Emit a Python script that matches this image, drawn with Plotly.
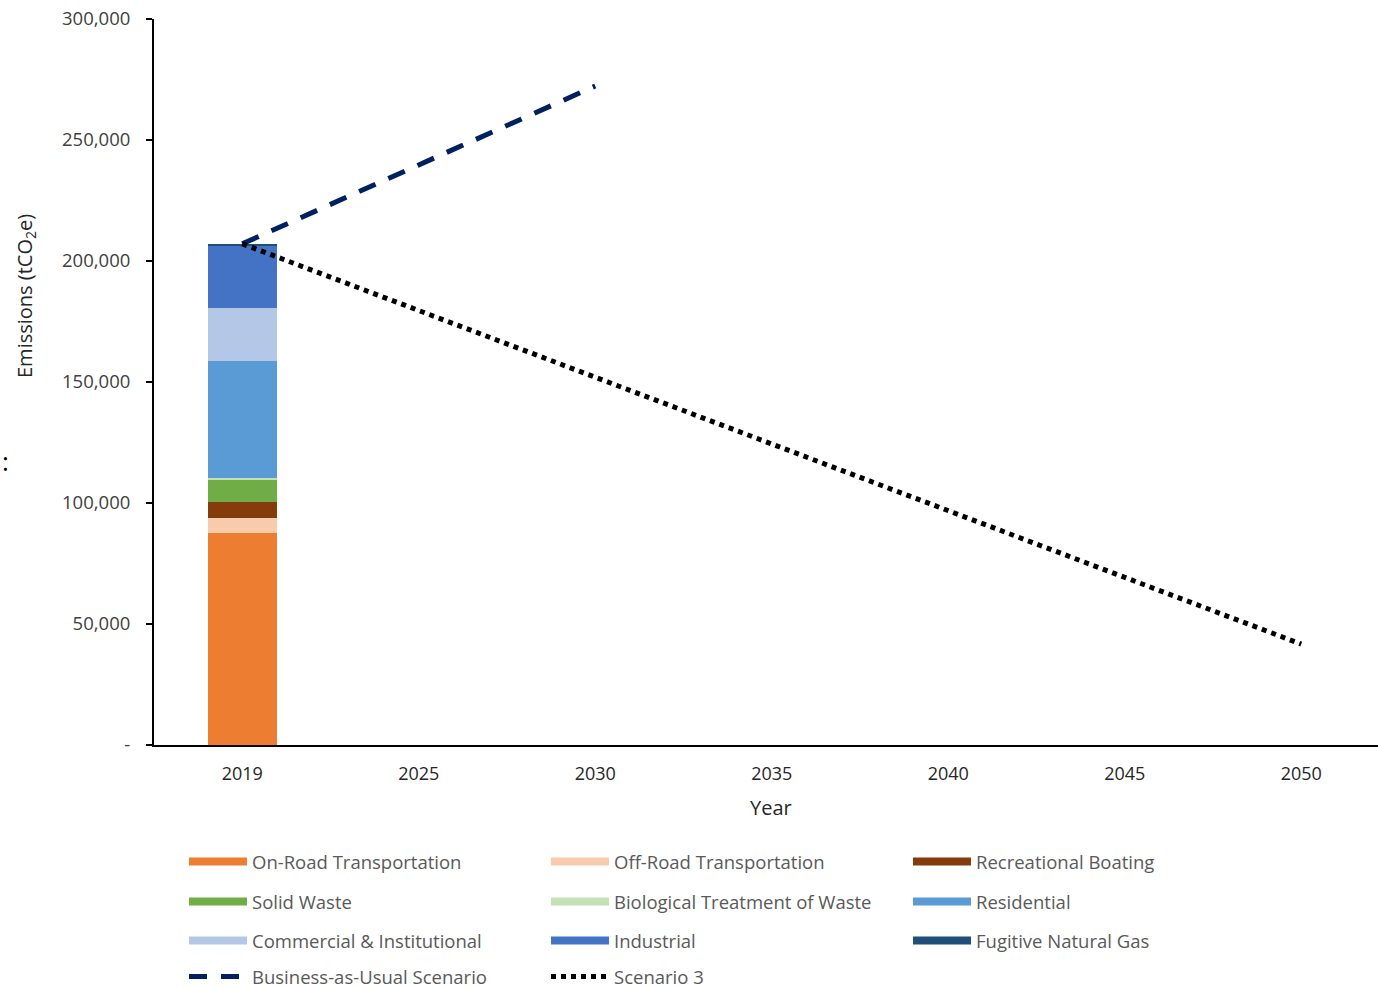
import plotly.graph_objects as go

years = ["2019", "2025", "2030", "2035", "2040", "2045", "2050"]

sectors = ["On-Road Transportation", "Off-Road Transportation", "Recreational Boating",
           "Solid Waste", "Biological Treatment of Waste", "Residential",
           "Commercial & Institutional", "Industrial", "Fugitive Natural Gas"]
values_2019 = [87500, 6100, 6700, 9600, 600, 48200, 22000, 25600, 800]
colors = ["#ED7D31", "#F8CBAD", "#843C0C", "#70AD47", "#C5E0B4", "#5B9BD5",
          "#B4C7E7", "#4472C4", "#1F4E79"]

bau_years = ["2019", "2030"]
bau_values = [207100, 272300]
s3_years = ["2019", "2050"]
s3_values = [207100, 41700]

FONT = "Open Sans"
L, T, R_EDGE, B_EDGE = 154, 19, 1378, 745
W = float(R_EDGE - L)
H = float(B_EDGE - T)

fig = go.Figure()

for name, v, c in zip(sectors, values_2019, colors):
    fig.add_trace(go.Bar(x=["2019"], y=[v], name=name, marker=dict(color=c, line=dict(width=0)),
                         showlegend=False, legendgroup=name))

fig.add_trace(go.Scatter(x=bau_years, y=bau_values, mode="lines", name="Business-as-Usual Scenario",
                         line=dict(color="#002060", width=5, dash="18px,14px"), showlegend=False))
fig.add_trace(go.Scatter(x=s3_years, y=s3_values, mode="lines", name="Scenario 3",
                         line=dict(color="black", width=5, dash="5px,5px"), showlegend=False))

# legend entries (rows of three)
legend_ids = ["legend", "legend2", "legend3", "legend4"]
for i, (name, c) in enumerate(zip(sectors, colors)):
    fig.add_trace(go.Scatter(x=[None], y=[None], mode="lines", name=name, legendgroup=name,
                             line=dict(color=c, width=8), legend=legend_ids[i // 3]))
fig.add_trace(go.Scatter(x=[None], y=[None], mode="lines", name="Business-as-Usual Scenario",
                         line=dict(color="#002060", width=5, dash="18px,14px"), legend="legend4"))
fig.add_trace(go.Scatter(x=[None], y=[None], mode="lines", name="Scenario 3",
                         line=dict(color="black", width=5, dash="5px,5px"), legend="legend4"))

row_px = [862, 902, 941, 977]
leg_common = dict(orientation="h", xanchor="left", yanchor="middle", entrywidth=289,
                  entrywidthmode="pixels", itemwidth=58, bgcolor="rgba(0,0,0,0)",
                  font=dict(family=FONT, size=18.5, color="#595959"), traceorder="normal")
legends = {}
for lid, py in zip(legend_ids, row_px):
    legends[lid] = dict(leg_common, x=(184 - L) / W, y=(B_EDGE - py) / H)

fig.update_layout(
    width=1378, height=988,
    margin=dict(l=L, r=1378 - R_EDGE, t=T, b=988 - B_EDGE, autoexpand=False),
    paper_bgcolor="white", plot_bgcolor="white",
    barmode="stack", bargap=0.61,
    font=dict(family=FONT, color="#404040"),
    xaxis=dict(type="category", categoryorder="array", categoryarray=years,
               range=[-0.5, 6.435], showgrid=False, showline=True, linecolor="black",
               linewidth=2, ticks="", ticklabelstandoff=11,
               tickfont=dict(size=18, color="#262626"), automargin=False),
    yaxis=dict(range=[0, 300000], tickvals=[0, 50000, 100000, 150000, 200000, 250000, 300000],
               ticktext=["-", "50,000", "100,000", "150,000", "200,000", "250,000", "300,000"],
               showgrid=False, showline=True, linecolor="black", linewidth=2,
               ticks="outside", ticklen=6, tickcolor="black", tickwidth=2,
               ticklabelstandoff=12, automargin=False,
               tickfont=dict(size=18.5, color="#404040"), zeroline=False),
    annotations=[
        dict(text=":", xref="paper", yref="paper", x=(0 - L) / W, y=(B_EDGE - 461) / H,
             xanchor="left", yanchor="middle", showarrow=False,
             font=dict(size=26, color="black", family=FONT)),
        dict(text="Emissions (tCO<sub>2</sub>e)", xref="paper", yref="paper",
             x=(25 - L) / W, y=(B_EDGE - 296) / H, textangle=-90, showarrow=False,
             xanchor="center", yanchor="middle",
             font=dict(size=20, color="#262626", family=FONT)),
        dict(text="Year", xref="paper", yref="paper",
             x=(771 - L) / W, y=(B_EDGE - 807) / H, showarrow=False,
             xanchor="center", yanchor="middle",
             font=dict(size=20, color="#262626", family=FONT)),
    ],
    **legends,
)

fig.write_html("out.html")
